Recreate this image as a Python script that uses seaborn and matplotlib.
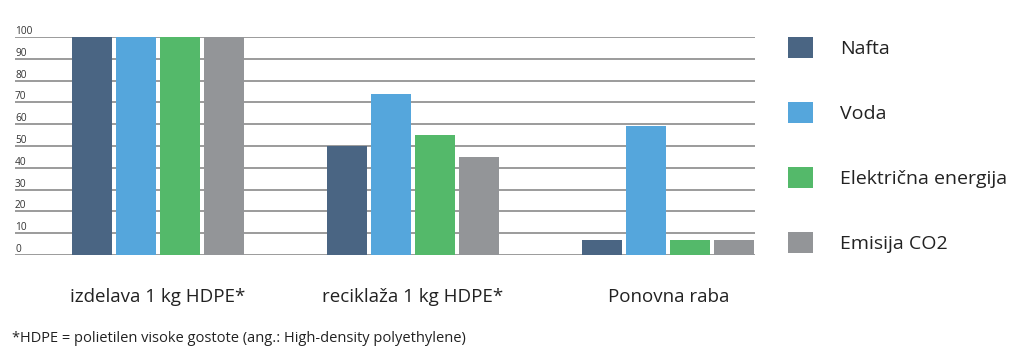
import matplotlib
matplotlib.use("Agg")
import matplotlib.pyplot as plt
import seaborn as sns
import pandas as pd

# podatki z grafa
kategorije = ["izdelava 1 kg HDPE*", "reciklaža 1 kg HDPE*", "Ponovna raba"]
serije = ["Nafta", "Voda", "Električna energija", "Emisija CO2"]
nafta = [100, 50, 7]
voda = [100, 74, 59]
elektrika = [100, 55, 7]
emisija = [100, 45, 7]
y_ticks = [0, 10, 20, 30, 40, 50, 60, 70, 80, 90, 100]
opomba = "*HDPE = polietilen visoke gostote (ang.: High-density polyethylene)"

barve = ["#4a6583", "#55a6dc", "#54b96a", "#939598"]

rows = []
for s, vals in zip(serije, [nafta, voda, elektrika, emisija]):
    for k, v in zip(kategorije, vals):
        rows.append({"kategorija": k, "serija": s, "vrednost": v})
df = pd.DataFrame(rows)

sns.set_theme(style="white")
plt.rcParams["font.family"] = ["Open Sans", "DejaVu Sans"]

fig = plt.figure(figsize=(10.24, 3.62), dpi=100)
ax = fig.add_axes([15 / 1024, 1 - 255 / 362, 740 / 1024, 218 / 362])

sns.barplot(data=df, x="kategorija", y="vrednost", hue="serija",
            order=kategorije, hue_order=serije, palette=barve,
            width=0.69, gap=0.09, saturation=1, ax=ax, zorder=2,
            linewidth=0)

ax.set_xlim(-0.56, 2.34)
ax.set_ylim(0, 100)
ax.set_yticks(y_ticks)
ax.set_yticklabels([str(t) for t in y_ticks], fontsize=7.3, color="#333333")
for lab in ax.get_yticklabels():
    lab.set_ha("left")
    lab.set_va("bottom")
ax.tick_params(axis="y", length=0, pad=0)
ax.tick_params(axis="x", length=0, pad=24, labelsize=13.5, labelcolor="#222222")
ax.yaxis.grid(True, color="#808080", linewidth=1.1, zorder=0)
ax.set_axisbelow(True)
for sp in ax.spines.values():
    sp.set_visible(False)
ax.set_xlabel("")
ax.set_ylabel("")

handles, labels = ax.get_legend_handles_labels()
ax.get_legend().remove()
fig.legend(handles, labels, loc="upper left",
           bbox_to_anchor=(788 / 1024, 1 - 37 / 362),
           frameon=False, fontsize=14, handlelength=1.3, handleheight=1.3,
           labelspacing=2.25, handletextpad=1.4, borderpad=0, borderaxespad=0,
           labelcolor="#222222")

fig.text(12 / 1024, 1 - 338 / 362, opomba, fontsize=10.5, va="center",
         color="#222222")

fig.savefig("out.png", dpi=100)
